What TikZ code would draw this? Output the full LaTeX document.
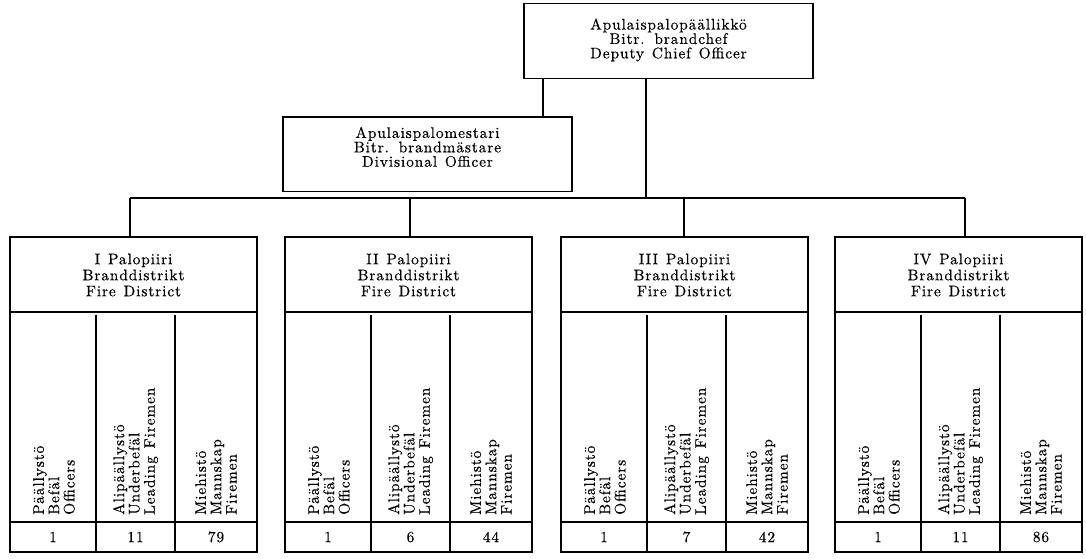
\documentclass[tikz,border=0pt]{standalone}
\usepackage{fontspec}
\newfontfamily\orgfam{lmroman10-regular.otf}[LetterSpace=6,WordSpace=1.3,FakeBold=0.4]
\newcommand{\orgfont}[1]{\orgfam\fontsize{11.5}{#1}\selectfont}
\begin{document}
\begin{tikzpicture}[x=0.75pt,y=-0.75pt,
  rule/.style={line width=1pt},
  boxA/.style={draw, line width=1pt, inner sep=0pt, minimum width=216.75pt, minimum height=56pt},
  dbox/.style={draw, line width=1pt, inner sep=0pt, minimum width=185.25pt, minimum height=236.25pt},
  txt/.style={align=center, inner sep=0pt, font=\orgfont{10.8pt}},
  htxt/.style={align=center, inner sep=0pt, font=\orgfont{12pt}},
  rot/.style={rotate=90, anchor=west, align=left, inner sep=0pt, font=\orgfont{11.5pt}},
  num/.style={inner sep=0pt, font=\orgfont{11pt}}]
\useasboundingbox (0,0) rectangle (1086,559);
\fill[white] (0,0) rectangle (1086,559);

% top boxes
\node[boxA] (top) at (668.5,41) {};
\node[txt] (toptxt) at (668.5,40) {Apulaispalopäällikkö\\Bitr. brandchef\\Deputy Chief Officer};
\node[boxA] (div) at (427.5,154.5) {};
\node[txt] (divtxt) at (427.5,147) {Apulaispalomestari\\Bitr. brandmästare\\Divisional Officer};

% bus
\coordinate (busL) at (130,198);
\coordinate (busR) at (965,198);
\coordinate (j1) at (543,0);
\coordinate (j2) at (646,0);
\draw[rule] (busL) -- (busR);
\draw[rule] (top.south -| j1) -- (div.north -| j1);
\draw[rule] (top.south -| j2) -- (j2 |- busL);

\foreach \i/\x/\cx/\rn/\na/\nb/\nc in {1/10/130/I/1/11/79, 2/285/410/II/1/6/44, 3/561/684/III/1/7/42, 4/835/965/IV/1/11/86}{
  \node[dbox] (d\i) at (\x+123.5,394.5) {};
  \coordinate (k\i) at (\cx,0);
  \draw[rule] (d\i.north -| k\i) -- (k\i |- busL);
  \draw[rule] (\x,312) -- (\x+247,312);
  \draw[rule] (\x,522) -- (\x+247,522);
  \draw[rule] (\x+86,315) -- (\x+86,552);
  \draw[rule] (\x+165,315) -- (\x+165,552);
  \node[htxt] (h\i) at (\x+123.5,275) {\rn\ Palopiiri\\Branddistrikt\\Fire District};
  \node[rot] (ca\i) at (\x+44,515) {Päällystö\\Befäl\\Officers};
  \node[rot] (cb\i) at (\x+125.5,515) {Alipäällystö\\Underbefäl\\Leading Firemen};
  \node[rot] (cc\i) at (\x+206,515) {Miehistö\\Mannskap\\Firemen};
  \node[num] (na\i) at (\x+43,537) {\na};
  \node[num] (nb\i) at (\x+125.5,537) {\nb};
  \node[num] (nc\i) at (\x+206,537) {\nc};
}
\end{tikzpicture}
\end{document}
